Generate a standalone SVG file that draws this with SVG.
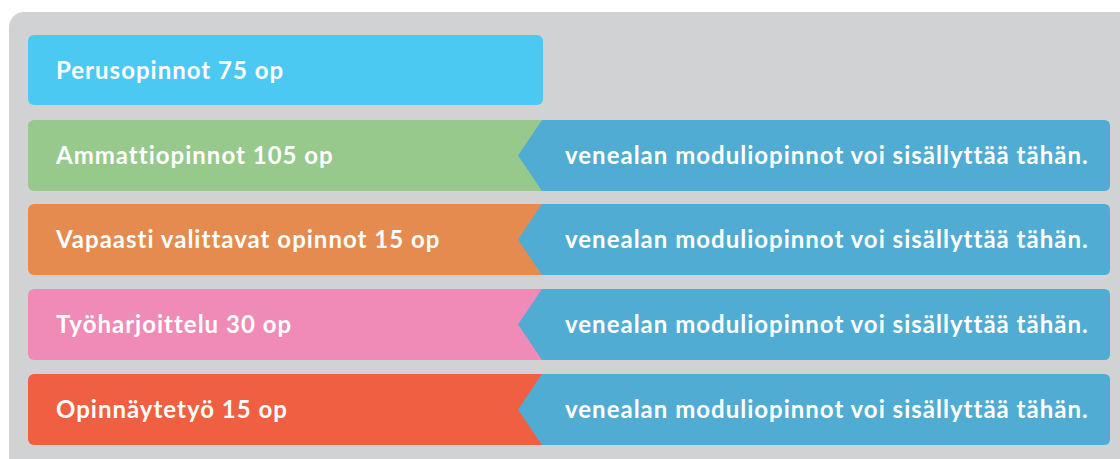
<svg xmlns="http://www.w3.org/2000/svg" width="1120" height="459" viewBox="0 0 1120 459">
<style>
.t{font-family:Lato,"Open Sans","Liberation Sans",sans-serif;font-weight:700;font-size:24px;letter-spacing:1px;fill:#ffffff}
.arrow{fill:#50ACD2}
</style>
<rect width="1120" height="459" fill="#ffffff"/>
<rect id="panel" x="9" y="12" width="1130" height="470" rx="15" fill="#D1D2D4"/>
<g id="perusopinnot">
<rect x="28" y="35" width="515" height="70" rx="6" fill="#4CC9F3"/>
<text class="t" x="56" y="79">Perusopinnot 75 op</text>
</g>
<g id="ammattiopinnot">
<rect x="28" y="120" width="520" height="71" rx="6" fill="#97C98C"/>
<text class="t" x="56" y="164">Ammattiopinnot 105 op</text>
</g>
<g id="vapaasti">
<rect x="28" y="204" width="520" height="71" rx="6" fill="#E58B4F"/>
<text class="t" x="56" y="248">Vapaasti valittavat opinnot 15 op</text>
</g>
<g id="tyoharjoittelu">
<rect x="28" y="289" width="520" height="71" rx="6" fill="#F08BB8"/>
<text class="t" x="56" y="333">Työharjoittelu 30 op</text>
</g>
<g id="opinnaytetyo">
<rect x="28" y="374" width="520" height="71" rx="6" fill="#F15F43"/>
<text class="t" x="56" y="418">Opinnäytetyö 15 op</text>
</g>
<g id="connectors">
<g id="note1">
<path class="arrow" d="M542 120 H1104 Q1110 120 1110 126 V185 Q1110 191 1104 191 H542 L518 155.5 Z"/>
<text class="t" x="565" y="164">venealan moduliopinnot voi sisällyttää tähän.</text>
</g>
<g id="note2">
<path class="arrow" d="M542 204 H1104 Q1110 204 1110 210 V269 Q1110 275 1104 275 H542 L518 239.5 Z"/>
<text class="t" x="565" y="248">venealan moduliopinnot voi sisällyttää tähän.</text>
</g>
<g id="note3">
<path class="arrow" d="M542 289 H1104 Q1110 289 1110 295 V354 Q1110 360 1104 360 H542 L518 324.5 Z"/>
<text class="t" x="565" y="333">venealan moduliopinnot voi sisällyttää tähän.</text>
</g>
<g id="note4">
<path class="arrow" d="M542 374 H1104 Q1110 374 1110 380 V439 Q1110 445 1104 445 H542 L518 409.5 Z"/>
<text class="t" x="565" y="418">venealan moduliopinnot voi sisällyttää tähän.</text>
</g>
</g>
</svg>
